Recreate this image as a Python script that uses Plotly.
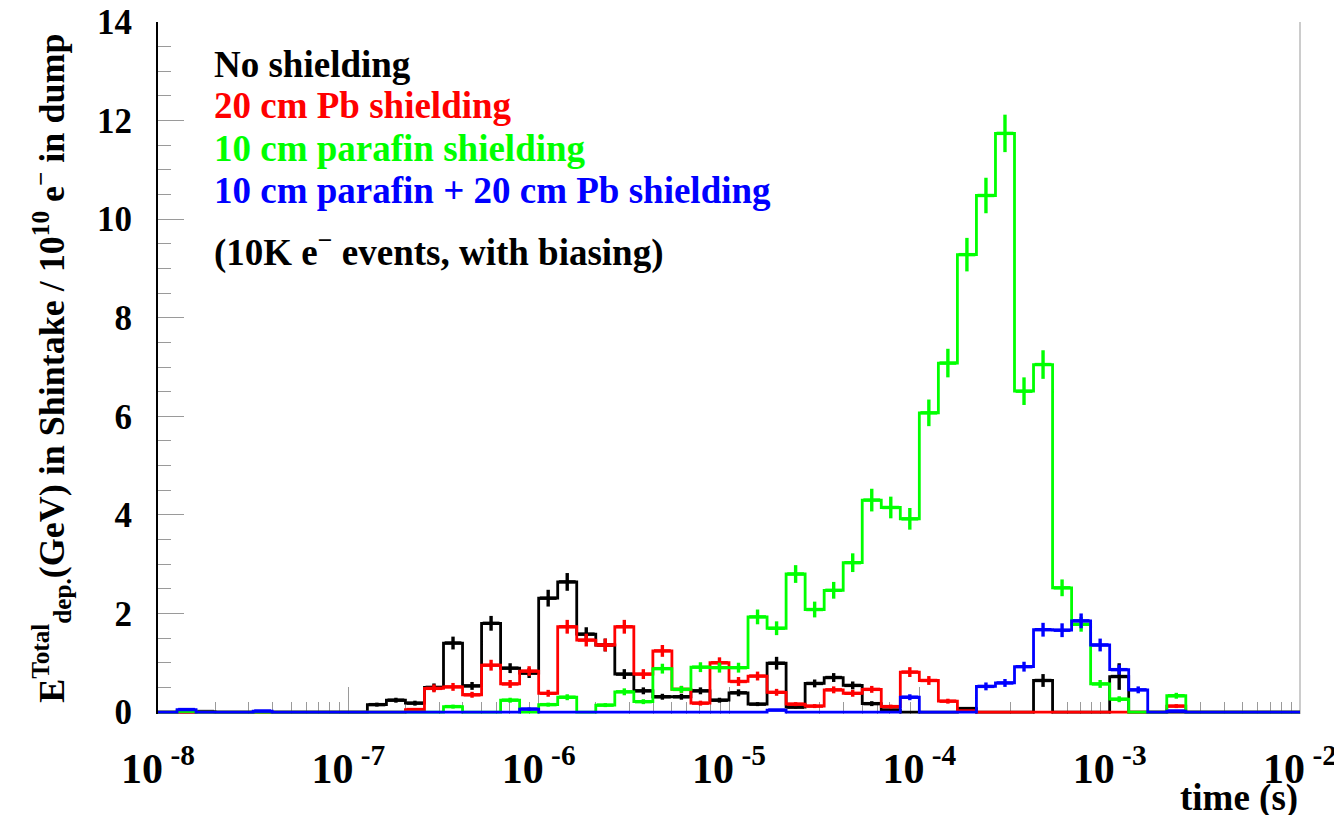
import plotly.graph_objects as go

# ---------------- binning (10 bins per decade, 1e-8 .. 1e-2 s) ----------------
N_BINS = 60
LOG_MIN, LOG_MAX = -8, -2

# ---------------- data ----------------
series_names = ["No shielding", "20 cm Pb shielding", "10 cm parafin shielding",
                "10 cm parafin + 20 cm Pb shielding"]
series_colors = ["#000000", "#ff0000", "#00ff00", "#0000ff"]

no_shielding = [
    0, 0, 0.01, 0, 0, 0, 0, 0, 0, 0,
    0, 0.15, 0.24, 0.18, 0.50, 1.40, 0.53, 1.80, 0.89, 0.79,
    2.31, 2.64, 1.58, 1.36, 0.77, 0.43, 0.31, 0.31, 0.43, 0.24,
    0.39, 0.16, 0.99, 0.10, 0.58, 0.70, 0.54, 0.17, 0.04, 0,
    0, 0, 0.07, 0, 0, 0, 0.64, 0, 0, 0,
    0.72, 0, 0, 0, 0, 0, 0, 0, 0, 0,
]
no_shielding_err = [
    0, 0, 0.01, 0, 0, 0, 0, 0, 0, 0,
    0, 0.04, 0.05, 0.05, 0.08, 0.13, 0.08, 0.15, 0.10, 0.10,
    0.17, 0.18, 0.14, 0.13, 0.10, 0.07, 0.06, 0.06, 0.07, 0.05,
    0.07, 0.04, 0.13, 0.03, 0.08, 0.09, 0.08, 0.05, 0.02, 0,
    0, 0, 0.03, 0, 0, 0, 0.13, 0, 0, 0,
    0.27, 0, 0, 0, 0, 0, 0, 0, 0, 0,
]

pb_20cm = [
    0, 0, 0, 0, 0, 0, 0, 0, 0, 0,
    0, 0, 0, 0.05, 0.48, 0.51, 0.35, 0.95, 0.57, 0.83,
    0.38, 1.73, 1.46, 1.36, 1.73, 0.77, 1.24, 0.46, 0.18, 1.00,
    0.62, 0.73, 0.40, 0.16, 0.12, 0.45, 0.38, 0.46, 0.11, 0.81,
    0.64, 0.22, 0.02, 0, 0, 0, 0, 0, 0, 0,
    0, 0, 0, 0.12, 0, 0, 0, 0, 0, 0,
]
pb_20cm_err = [
    0, 0, 0, 0, 0, 0, 0, 0, 0, 0,
    0, 0, 0, 0.02, 0.08, 0.08, 0.06, 0.11, 0.08, 0.10,
    0.07, 0.14, 0.13, 0.13, 0.14, 0.10, 0.12, 0.07, 0.05, 0.11,
    0.09, 0.09, 0.07, 0.04, 0.04, 0.07, 0.07, 0.07, 0.04, 0.10,
    0.09, 0.05, 0.01, 0, 0, 0, 0, 0, 0, 0,
    0, 0, 0, 0.04, 0, 0, 0, 0, 0, 0,
]

parafin_10cm = [
    0, 0.02, 0, 0, 0, 0, 0, 0, 0, 0,
    0, 0, 0, 0, 0, 0.11, 0, 0, 0.24, 0,
    0.15, 0.30, 0, 0.14, 0.41, 0.21, 0.88, 0.46, 0.91, 0.90,
    0.90, 1.93, 1.70, 2.80, 2.08, 2.47, 3.03, 4.30, 4.15, 3.92,
    6.07, 7.08, 9.28, 10.48, 11.74, 6.51, 7.05, 2.52, 1.78, 0.57,
    0.26, 0, 0, 0.33, 0, 0, 0, 0, 0, 0,
]
parafin_10cm_err = [
    0, 0.01, 0, 0, 0, 0, 0, 0, 0, 0,
    0, 0, 0, 0, 0, 0.04, 0, 0, 0.05, 0,
    0.04, 0.06, 0, 0.04, 0.07, 0.05, 0.10, 0.07, 0.10, 0.10,
    0.10, 0.15, 0.14, 0.18, 0.16, 0.17, 0.19, 0.23, 0.22, 0.22,
    0.27, 0.29, 0.34, 0.36, 0.38, 0.28, 0.29, 0.17, 0.15, 0.08,
    0.06, 0, 0, 0.06, 0, 0, 0, 0, 0, 0,
]

parafin_pb = [
    0, 0.05, 0, 0, 0, 0.02, 0, 0, 0, 0,
    0, 0, 0, 0, 0, 0, 0, 0, 0, 0.06,
    0, 0, 0, 0, 0, 0, 0, 0, 0, 0,
    0, 0, 0.04, 0, 0, 0, 0, 0, 0, 0.30,
    0, 0, 0, 0.52, 0.59, 0.92, 1.67, 1.66, 1.85, 1.36,
    0.86, 0.45, 0, 0.02, 0, 0, 0, 0, 0, 0,
]
parafin_pb_err = [
    0, 0.02, 0, 0, 0, 0.01, 0, 0, 0, 0,
    0, 0, 0, 0, 0, 0, 0, 0, 0, 0.03,
    0, 0, 0, 0, 0, 0, 0, 0, 0, 0,
    0, 0, 0.02, 0, 0, 0, 0, 0, 0, 0.06,
    0, 0, 0, 0.08, 0.08, 0.10, 0.14, 0.14, 0.15, 0.13,
    0.10, 0.07, 0, 0.01, 0, 0, 0, 0, 0, 0,
]

series_values = [no_shielding, pb_20cm, parafin_10cm, parafin_pb]
series_errors = [no_shielding_err, pb_20cm_err, parafin_10cm_err, parafin_pb_err]

x_tick_exponents = [-8, -7, -6, -5, -4, -3, -2]
y_tick_values = [0, 2, 4, 6, 8, 10, 12, 14]

# ---------------- figure ----------------
step = (LOG_MAX - LOG_MIN) / N_BINS
edges = [10 ** (LOG_MIN + k * step) for k in range(N_BINS + 1)]
centers = [10 ** (LOG_MIN + (k + 0.5) * step) for k in range(N_BINS)]

FONT = "Liberation Serif"
fig = go.Figure()

for name, vals, errs, col in zip(series_names, series_values, series_errors, series_colors):
    fig.add_trace(go.Scatter(
        x=edges, y=list(vals) + [vals[-1]], mode="lines",
        line=dict(color=col, width=2.8, shape="hv"),
        name=name, showlegend=False, hoverinfo="skip"))
    xs = [c for c, v in zip(centers, vals) if v > 0]
    ys = [v for v in vals if v > 0]
    es = [e for e, v in zip(errs, vals) if v > 0]
    fig.add_trace(go.Scatter(
        x=xs, y=ys, mode="markers",
        marker=dict(symbol="line-ew", size=12, color=col,
                    line=dict(color=col, width=3.4)),
        error_y=dict(type="data", array=es, visible=True, color=col,
                     thickness=3.4, width=0),
        showlegend=False, hoverinfo="skip"))

major_x = [10.0 ** e for e in x_tick_exponents]
minor_x = [m * 10.0 ** e for e in x_tick_exponents[:-1] for m in range(2, 10)]

# page body has an 8px margin: figure sized to fit the 1342x815 window
fig.update_layout(
    width=1334, height=807,
    margin=dict(l=150, r=42, t=14, b=101, autoexpand=False),
    paper_bgcolor="white", plot_bgcolor="white",
    font=dict(family=FONT, size=37, color="black", weight="bold"),
    xaxis=dict(
        type="log", range=[LOG_MIN, LOG_MAX], automargin=False,
        tickmode="array", tickvals=major_x,
        ticktext=[f"10<sup> {e}</sup>" for e in x_tick_exponents],
        ticks="inside", ticklen=27, tickwidth=1.2, tickcolor="#9a9a9a",
        minor=dict(tickmode="array", tickvals=minor_x, ticks="inside",
                   ticklen=12, tickwidth=1.2, tickcolor="#9a9a9a"),
        tickfont=dict(family=FONT, size=42, color="black", weight="bold"),
        ticklabelstandoff=26, ticklabeloverflow="allow",
        showgrid=False, zeroline=False, showline=False, layer="below traces"),
    yaxis=dict(
        range=[-0.04, 14], automargin=False,
        tickmode="array", tickvals=y_tick_values,
        ticks="inside", ticklen=26, tickwidth=1.2, tickcolor="#9a9a9a",
        minor=dict(dtick=0.5, tick0=0, ticks="inside", ticklen=13,
                   tickwidth=1.2, tickcolor="#9a9a9a"),
        tickfont=dict(family=FONT, size=35, color="black", weight="bold"),
        ticklabelstandoff=17, ticklabeloverflow="allow",
        showline=True, linecolor="black", linewidth=2,
        showgrid=False, zeroline=False, layer="below traces"),
)

# right frame edge
fig.add_shape(type="line", xref="paper", yref="paper", x0=1, x1=1, y0=0, y1=1,
              line=dict(color="#bbbbbb", width=1.5), layer="below")

legend_y = [13.13, 12.31, 11.44, 10.59]
for name, col, yy in zip(series_names, series_colors, legend_y):
    fig.add_annotation(text=name, x=0.047, xref="paper", y=yy, yref="y",
                       xanchor="left", yanchor="middle", showarrow=False,
                       font=dict(family=FONT, size=37, color=col, weight="bold"))
fig.add_annotation(text="(10K e<sup>\u2212</sup> events, with biasing)",
                   x=0.047, xref="paper", y=9.37, yref="y",
                   xanchor="left", yanchor="middle", showarrow=False,
                   font=dict(family=FONT, size=37, color="black", weight="bold"))

fig.add_annotation(
    text="E<sup>Total</sup><sub>dep.</sub>(GeV) in Shintake / 10<sup>10</sup> e<sup>\u2212</sup> in dump",
    textangle=-90, x=-0.093, xref="paper", y=0.5, yref="paper",
    xanchor="center", yanchor="middle", showarrow=False,
    font=dict(family=FONT, size=36, color="black", weight="bold"))

fig.add_annotation(text="time (s)", x=1.0, xref="paper", y=-0.122, yref="paper",
                   xanchor="right", yanchor="middle", showarrow=False,
                   font=dict(family=FONT, size=37, color="black", weight="bold"))

fig.write_html("out.html")
